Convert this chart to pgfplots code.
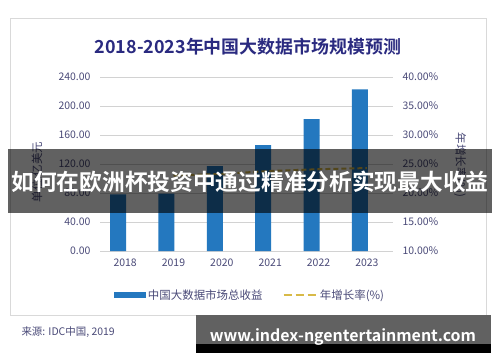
\documentclass[border=0pt]{standalone}
\usepackage{pgfplots}
\pgfplotsset{compat=1.18}
\usepackage{fontspec}
\setmainfont{Noto Sans CJK SC}[BoldFont={Noto Sans CJK SC Bold}]
\definecolor{barblue}{HTML}{2478BF}
\definecolor{linegold}{HTML}{D8BA48}
\definecolor{navy}{HTML}{2A2A80}
\definecolor{ticktxt}{HTML}{4A4A78}
\begin{document}
\begin{tikzpicture}[x=1bp,y=1bp]
\useasboundingbox (0,0) rectangle (500,362);
\fill[white] (0,0) rectangle (500,362);
\draw[color=gray!30, line width=1bp] (10.5,47) rectangle (486,343.5);
\node[font=\bfseries\fontsize{18}{21}\selectfont, text=navy] at (248,315) {2018-2023年中国大数据市场规模预测};

\begin{axis}[at={(100bp,111bp)}, anchor=south west, scale only axis,
  width=293bp, height=174bp,
  xmin=-0.52, xmax=5.54, ymin=0, ymax=240,
  ytick={0,40,80,120,160,200,240},
  yticklabels={0.00,40.00,80.00,120.00,160.00,200.00,240.00},
  xtick={0,1,2,3,4,5},
  xticklabels={2018,2019,2020,2021,2022,2023},
  axis line style={draw=none}, major tick length=0pt,
  ymajorgrids, grid style={gray!35, line width=0.8bp},
  tick label style={font=\fontsize{10.5}{12}\selectfont, text=ticktxt},
  yticklabel style={xshift=-6bp},
  xticklabel style={yshift=-4bp},
  legend style={at={(0.512,-0.253)}, anchor=center, draw=none, fill=none,
    font=\fontsize{11.5}{13}\selectfont, text=ticktxt,
    /tikz/every even column/.append style={column sep=18bp}},
  legend columns=2,
]
\addplot[ybar, bar width=16bp, bar shift=-7bp, fill=barblue, draw=none,
  legend image code/.code={\fill[barblue] (0bp,-3bp) rectangle (32bp,3bp);}]
  coordinates {(0,78) (1,79) (2,117) (3,146) (4,182) (5,223)};
\addlegendentry{中国大数据市场总收益}
\addlegendimage{legend image code/.code={\draw[linegold, line width=2.5bp, dash pattern=on 8bp off 4bp] (0bp,0bp) -- (33bp,0bp);}}
\addlegendentry{年增长率(\%)}
\end{axis}

\begin{axis}[at={(100bp,111bp)}, anchor=south west, scale only axis,
  width=293bp, height=174bp,
  xmin=-0.52, xmax=5.54, ymin=10, ymax=40,
  axis y line*=right, axis x line=none,
  ytick={10,15,20,25,30,35,40},
  yticklabels={10.00\%,15.00\%,20.00\%,25.00\%,30.00\%,35.00\%,40.00\%},
  axis line style={draw=none}, major tick length=0pt,
  tick label style={font=\fontsize{10.5}{12}\selectfont, text=ticktxt},
  yticklabel style={xshift=6bp},
]
\addplot[linegold, line width=2bp, dash pattern=on 5bp off 3bp]
  coordinates {(1,23.0) (2,23.3) (3,23.8) (4,24.1) (5,24.3)};
\end{axis}

\node[rotate=90, font=\fontsize{11.5}{13}\selectfont, text=ticktxt] at (37,190) {单位:亿美元};
\node[rotate=-90, font=\fontsize{11.5}{13}\selectfont, text=ticktxt] at (460,197) {年增长率(\%)};

\node[anchor=west, font=\fontsize{10.5}{12}\selectfont, text=ticktxt] at (18,30) {来源: IDC中国, 2019};

\fill[black, opacity=0.62] (8,149) rectangle (492,213);
\node[font=\bfseries\fontsize{22.8}{26}\selectfont, text=white] at (250,180) {如何在欧洲杯投资中通过精准分析实现最大收益};

\fill[black!62] (196,18) rectangle (491,47);
\fill[black] (196,9) rectangle (491,18);
\node[font=\bfseries\fontsize{16}{19}\selectfont, text=white] at (343,25) {www.index-ngentertainment.com};
\end{tikzpicture}
\end{document}
